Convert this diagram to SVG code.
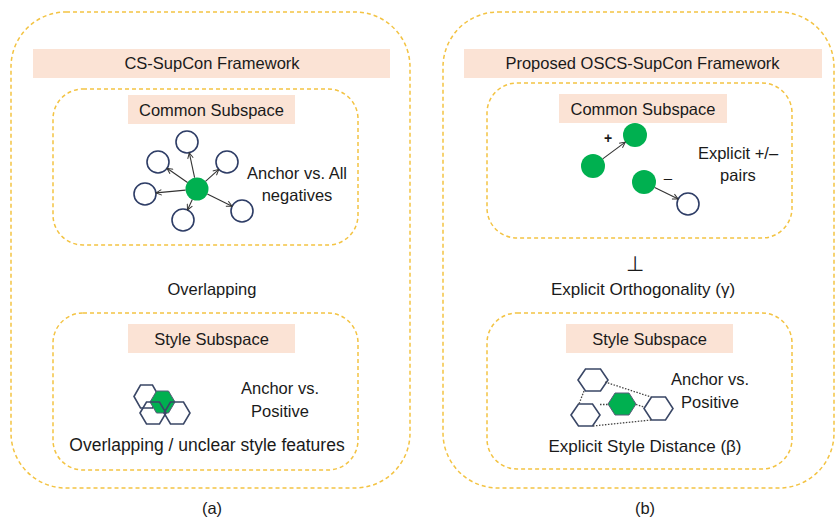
<svg xmlns="http://www.w3.org/2000/svg" width="837" height="518" viewBox="0 0 837 518">
<defs>
<style>
.frame{fill:none;stroke:#f3c343;stroke-width:1.5;stroke-dasharray:4 3}
.bar{fill:#fbe3d5}
.t{font-family:"Liberation Sans",Arial,sans-serif;font-size:16.5px;fill:#1a1a1a;text-anchor:middle}
.neg{fill:#fff;stroke:#2e3d66;stroke-width:1.6}
.pos{fill:#00b050}
.hex{fill:none;stroke:#3a4766;stroke-width:1.6}
.hexg{fill:#00b050;stroke:#5a5a7a;stroke-width:1}
.arr{stroke:#333;stroke-width:1.1;fill:none;marker-end:url(#ah)}
.dot{stroke:#444;stroke-width:1.3;stroke-dasharray:1.5 1.5;fill:none}
</style>
<marker id="ah" viewBox="0 0 10 10" refX="9" refY="5" markerWidth="7" markerHeight="7" orient="auto" markerUnits="userSpaceOnUse">
<path d="M1,1 L9,5 L1,9" fill="none" stroke="#333" stroke-width="1.4"/>
</marker>
</defs>
<rect width="837" height="518" fill="#fff"/>

<g id="panel-a">
<rect class="frame" x="11" y="12" width="399" height="476" rx="55"/>
<rect class="bar" x="33" y="49" width="357" height="29"/>
<text class="t" x="212" y="69">CS-SupCon Framework</text>
</g>

<g id="common-a">
<rect class="frame" x="53" y="89" width="305" height="156" rx="30"/>
<rect class="bar" x="128" y="95" width="167" height="29"/>
<text class="t" x="211.5" y="116">Common Subspace</text>
<circle class="neg" cx="187" cy="142" r="11"/>
<circle class="neg" cx="158" cy="162" r="11"/>
<circle class="neg" cx="227" cy="162" r="11"/>
<circle class="neg" cx="145" cy="194" r="11"/>
<circle class="neg" cx="183" cy="220" r="11"/>
<circle class="neg" cx="242" cy="211" r="11"/>
<circle class="pos" cx="197" cy="189" r="11.5"/>
<text class="t" x="297" y="179">Anchor vs. All</text>
<text class="t" x="297" y="201">negatives</text>
</g>

<g id="overlap-label">
<text class="t" x="212" y="295">Overlapping</text>
</g>

<g id="style-a">
<rect class="frame" x="53" y="313" width="305" height="157" rx="30"/>
<rect class="bar" x="128" y="324" width="167" height="29"/>
<text class="t" x="211.5" y="345">Style Subspace</text>
<polygon class="hex" points="134,396.5 140.5,385 152.5,385 159,396.5 152.5,408 140.5,408"/>
<polygon class="hexg" points="150,402 156.5,391 168.5,391 175,402 168.5,413 156.5,413"/>
<polygon class="hex" points="140,413 146.5,402 159.5,402 166,413 159.5,424 146.5,424"/>
<polygon class="hex" points="164,413 170.5,402 183.5,402 190,413 183.5,424 170.5,424"/>
<text class="t" x="280" y="394">Anchor vs.</text>
<text class="t" x="280" y="417">Positive</text>
<text class="t" x="207" y="451" style="font-size:17.5px">Overlapping / unclear style features</text>
</g>

<g id="caption-a"><text class="t" x="212" y="514">(a)</text></g>

<g id="panel-b">
<rect class="frame" x="443" y="12" width="391" height="476" rx="55"/>
<rect class="bar" x="464" y="49" width="358" height="29"/>
<text class="t" x="642.5" y="69">Proposed OSCS-SupCon Framework</text>
</g>

<g id="common-b">
<rect class="frame" x="487" y="83" width="305" height="155" rx="30"/>
<rect class="bar" x="559" y="94" width="168" height="29"/>
<text class="t" x="643" y="115">Common Subspace</text>
<circle class="pos" cx="593" cy="166" r="12"/>
<circle class="pos" cx="635" cy="135" r="12"/>
<circle class="pos" cx="644" cy="182" r="12"/>
<circle class="neg" cx="688" cy="204" r="11"/>
<text class="t" x="608" y="143" style="font-size:14px;font-weight:bold">+</text>
<text class="t" x="668" y="183" style="font-size:15px">–</text>
<text class="t" x="738" y="159">Explicit +/–</text>
<text class="t" x="738" y="181">pairs</text>
</g>

<g id="ortho-label">
<text class="t" x="635" y="271" style="font-size:21px">⊥</text>
<text class="t" x="643" y="295" style="font-size:17px">Explicit Orthogonality (γ)</text>
</g>

<g id="style-b">
<rect class="frame" x="487" y="313" width="305" height="156" rx="30"/>
<rect class="bar" x="566" y="324" width="167" height="29"/>
<text class="t" x="649.5" y="345">Style Subspace</text>
<polygon class="hex" points="578,380 585.5,369 600.5,369 608,380 600.5,391 585.5,391"/>
<polygon class="hex" points="571,415 578.5,404 592.5,404 600,415 592.5,426 578.5,426"/>
<polygon class="hexg" points="608,404 615,393 629,393 636,404 629,415 615,415"/>
<polygon class="hex" points="644,408.5 651.5,397 665.5,397 673,408.5 665.5,420 651.5,420"/>
<text class="t" x="710" y="385">Anchor vs.</text>
<text class="t" x="710" y="408">Positive</text>
<text class="t" x="645" y="452" style="font-size:17px">Explicit Style Distance (β)</text>
</g>

<g id="caption-b"><text class="t" x="645" y="514">(b)</text></g>

<g id="connectors">
<line class="arr" x1="194.6" y1="177.7" x2="189.3" y2="152.8"/>
<line class="arr" x1="187.5" y1="182.5" x2="167.0" y2="168.3"/>
<line class="arr" x1="205.5" y1="181.3" x2="218.8" y2="169.4"/>
<line class="arr" x1="185.5" y1="190.1" x2="156" y2="192.9"/>
<line class="arr" x1="192.3" y1="199.5" x2="187.5" y2="210"/>
<line class="arr" x1="207.3" y1="194" x2="232.1" y2="206.2"/>
<line class="arr" x1="602.7" y1="158.9" x2="625.3" y2="142.1"/>
<line class="arr" x1="654.7" y1="187.4" x2="678.2" y2="199.1"/>
<line class="dot" x1="605" y1="382" x2="651" y2="397"/>
<line class="dot" x1="584" y1="391" x2="579" y2="404"/>
<line class="dot" x1="600" y1="404.5" x2="608" y2="404.5"/>
<line class="dot" x1="636" y1="404.5" x2="644" y2="407"/>
<line class="dot" x1="593" y1="426" x2="651" y2="420"/>
</g>
</svg>
